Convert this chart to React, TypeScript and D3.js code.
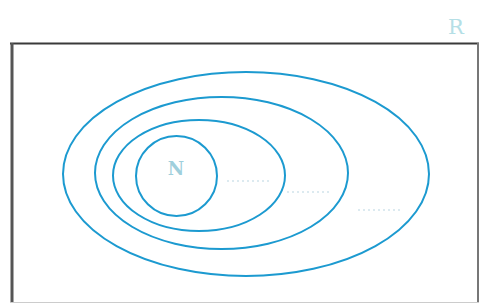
import React, { useEffect, useRef } from 'react';
import * as d3 from 'd3';

// nested number sets, outermost first (label shown only for N and R)
const sets = ['R', 'Q', 'Z', 'N'];
const shownLabels = ['R', 'N'];
// extents in diagram units: [left, right, top, bottom]
const extents = [
  [63, 429, 72, 276],
  [95, 348, 97, 249],
  [113, 285, 120, 231],
  [136, 217, 136, 216]
];
// blank placeholder lines next to each inner set: [x0, x1, y]
const blanks = [
  [227, 270, 181],
  [287, 332, 192],
  [358, 402, 210]
];

const App = () => {
  const container = useRef(null);

  useEffect(() => {
    const width = 480;
    const height = 303;

    const x = d3.scaleLinear().domain([0, 480]).range([0, width]);
    const y = d3.scaleLinear().domain([0, 303]).range([0, height]);

    const svg = d3
      .select(container.current)
      .selectAll('svg')
      .data([0])
      .join('svg')
      .attr('width', width)
      .attr('height', height)
      .style('position', 'absolute')
      .style('left', 0)
      .style('top', 0)
      .style('background', '#fff');

    // frame
    svg.selectAll('.frame').data([0]).join('g').attr('class', 'frame').call(g => {
      g.selectAll('*').remove();
      g.append('line').attr('x1', 10).attr('x2', 479).attr('y1', 43.5).attr('y2', 43.5)
        .attr('stroke', '#3a3a3a').attr('stroke-width', 2);
      g.append('line').attr('x1', 12).attr('x2', 12).attr('y1', 43).attr('y2', 303)
        .attr('stroke', '#555').attr('stroke-width', 3);
      g.append('line').attr('x1', 478).attr('x2', 478).attr('y1', 43).attr('y2', 303)
        .attr('stroke', '#777').attr('stroke-width', 2);
      g.append('line').attr('x1', 10).attr('x2', 479).attr('y1', 302.5).attr('y2', 302.5)
        .attr('stroke', '#ccc').attr('stroke-width', 1);
    });

    svg
      .selectAll('.set')
      .data(sets.map((s, i) => ({ name: s, e: extents[i] })))
      .join('ellipse')
      .attr('class', 'set')
      .attr('cx', d => x((d.e[0] + d.e[1]) / 2))
      .attr('cy', d => y((d.e[2] + d.e[3]) / 2))
      .attr('rx', d => (x(d.e[1]) - x(d.e[0])) / 2)
      .attr('ry', d => (y(d.e[3]) - y(d.e[2])) / 2)
      .attr('fill', 'none')
      .attr('stroke', '#1c9ad0')
      .attr('stroke-width', 2);

    svg
      .selectAll('.blank')
      .data(blanks)
      .join('line')
      .attr('class', 'blank')
      .attr('x1', d => x(d[0]))
      .attr('x2', d => x(d[1]))
      .attr('y1', d => y(d[2]))
      .attr('y2', d => y(d[2]))
      .attr('stroke', '#b9d6e2')
      .attr('stroke-width', 1.2)
      .attr('stroke-dasharray', '2,3');

    const labelPos = { R: [456, 34, 21, 'normal', '#b5dfe6'], N: [176, 175, 18, 'bold', '#9fcfdc'] };
    svg
      .selectAll('.setlabel')
      .data(shownLabels)
      .join('text')
      .attr('class', 'setlabel')
      .attr('x', d => x(labelPos[d][0]))
      .attr('y', d => y(labelPos[d][1]))
      .attr('text-anchor', 'middle')
      .attr('font-family', 'DejaVu Serif, serif')
      .attr('font-weight', d => labelPos[d][3])
      .attr('font-size', d => labelPos[d][2])
      .attr('fill', d => labelPos[d][4])
      .text(d => d);
  }, []);

  return <div ref={container}></div>;
};

export default App;
